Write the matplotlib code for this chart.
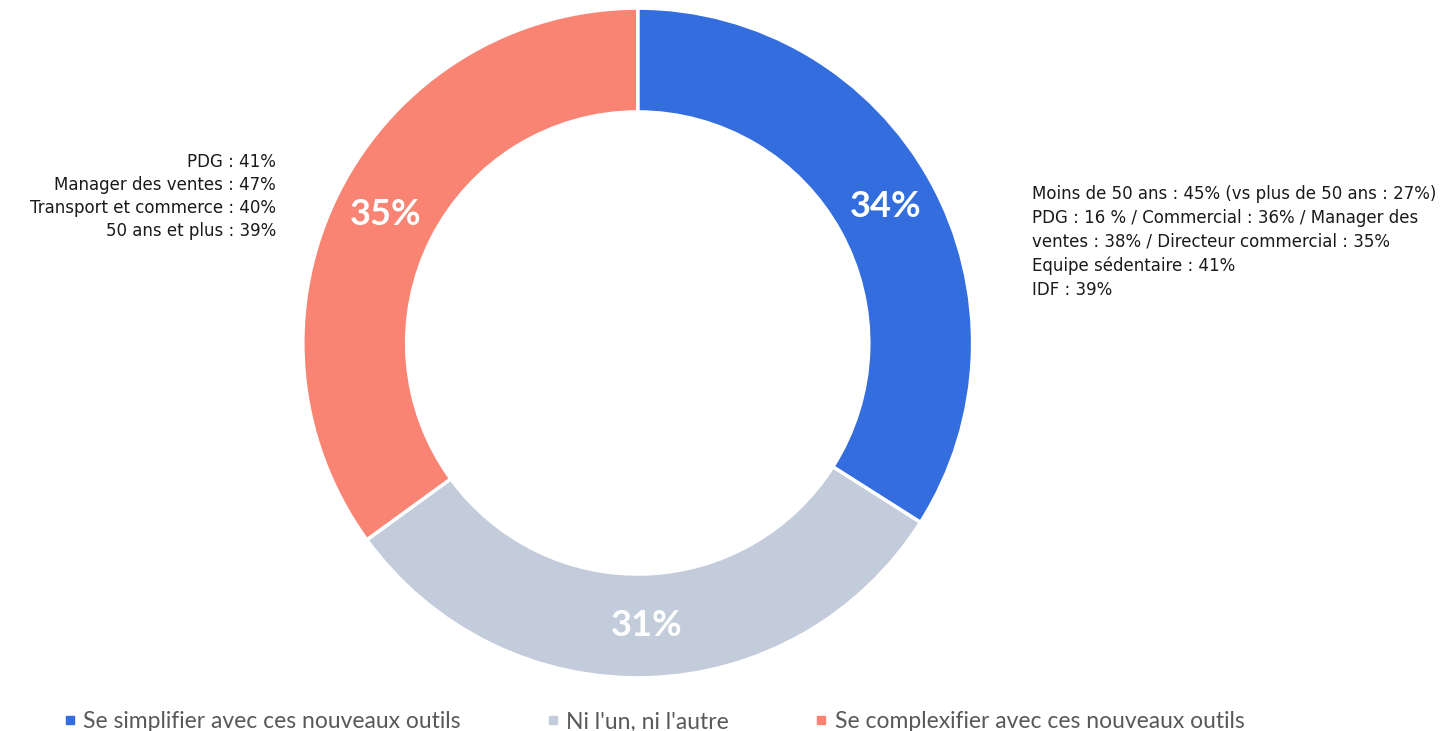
import matplotlib
matplotlib.use("Agg")
import matplotlib.pyplot as plt
from matplotlib.lines import Line2D

categories = ["Se simplifier avec ces nouveaux outils", "Ni l'un, ni l'autre",
              "Se complexifier avec ces nouveaux outils"]
values = [34, 31, 35]
colors = ["#346DDE", "#C3CCDB", "#FA8473"]

note_right = ("Moins de 50 ans : 45% (vs plus de 50 ans : 27%)\n"
              "PDG : 16 % / Commercial : 36% / Manager des\n"
              "ventes : 38% / Directeur commercial : 35%\n"
              "Equipe sédentaire : 41%\n"
              "IDF : 39%")
note_left = ("PDG : 41%\n"
             "Manager des ventes : 47%\n"
             "Transport et commerce : 40%\n"
             "50 ans et plus : 39%")

plt.rcParams['font.family'] = ['Lato', 'DejaVu Sans']

fig = plt.figure(figsize=(14.56, 7.31), dpi=100)
ax = fig.add_axes([0.208, 0.0725, 0.460, 0.9166])

wedges, _, autotexts = ax.pie(values, colors=colors, startangle=90, counterclock=False,
                              autopct=lambda p: "%d%%" % round(p), pctdistance=0.845,
                              wedgeprops=dict(width=0.31, edgecolor="white", linewidth=2.5))
for t in autotexts:
    t.set_color("white")
    t.set_fontsize(26)
    t.set_fontweight("bold")
ax.set_xlim(-1, 1)
ax.set_ylim(-1, 1)
ax.set_aspect("equal")

fig.text(1032 / 1456, 1 - 185 / 731, note_right, ha="left", va="top",
         fontsize=12, color="#1a1a1a", linespacing=1.42, family="DejaVu Sans")
fig.text(276 / 1456, 1 - 153 / 731, note_left, ha="right", va="top",
         fontsize=12, color="#1a1a1a", linespacing=1.35, family="DejaVu Sans")

handles = [Line2D([], [], marker="s", linestyle="none", markersize=6,
                  markerfacecolor=c, markeredgecolor=c) for c in colors]
fig.legend(handles, categories, loc="center left", bbox_to_anchor=(0.029, 1 - 722 / 731),
           ncol=3, frameon=False, fontsize=16.5, handlelength=0.6, handletextpad=0.3,
           columnspacing=3.7, labelcolor="#595959")

fig.savefig("out.png", dpi=100)
